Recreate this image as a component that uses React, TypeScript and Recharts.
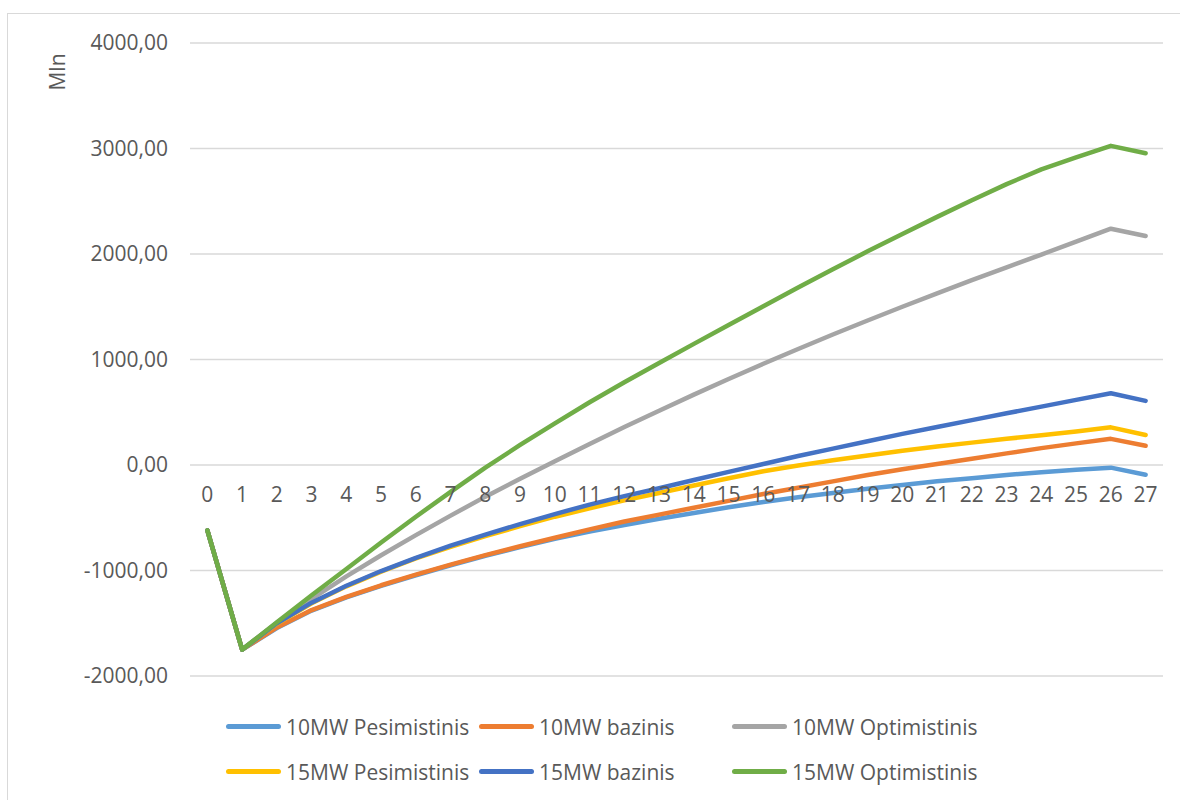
import React from "react";
import {
  LineChart,
  Line,
  XAxis,
  YAxis,
  CartesianGrid,
  Legend,
  ReferenceDot,
} from "recharts";

// Metai (projekto laikotarpis)
const years = [
  "0", "1", "2", "3", "4", "5", "6", "7", "8", "9", "10", "11", "12", "13",
  "14", "15", "16", "17", "18", "19", "20", "21", "22", "23", "24", "25", "26", "27",
];

// Sukauptas pinigų srautas, mln.
const pes10 = [
  -620, -1750, -1545, -1380, -1255, -1145, -1045, -950, -860, -778, -700, -630, -570, -510,
  -455, -400, -350, -305, -265, -225, -190, -155, -125, -95, -68, -45, -25, -92,
];
const baz10 = [
  -620, -1750, -1540, -1375, -1250, -1140, -1040, -945, -855, -770, -690, -610, -535, -470,
  -405, -340, -275, -215, -155, -95, -40, 10, 60, 110, 160, 205, 248, 182,
];
const opt10 = [
  -620, -1750, -1495, -1270, -1055, -855, -665, -480, -300, -130, 35, 200, 360, 515,
  667, 815, 960, 1100, 1237, 1370, 1500, 1627, 1752, 1873, 1995, 2118, 2240, 2170,
];
const pes15 = [
  -620, -1750, -1505, -1310, -1150, -1010, -885, -775, -675, -580, -490, -410, -335, -265,
  -195, -125, -60, -5, 45, 90, 135, 175, 212, 248, 283, 318, 357, 285,
];
const baz15 = [
  -620, -1750, -1500, -1305, -1145, -1005, -880, -765, -660, -560, -465, -375, -295, -220,
  -142, -65, 10, 85, 155, 225, 295, 360, 425, 490, 553, 617, 680, 608,
];
const opt15 = [
  -620, -1750, -1490, -1235, -985, -735, -490, -255, -25, 190, 395, 595, 785, 967,
  1148, 1327, 1505, 1682, 1855, 2025, 2190, 2352, 2510, 2662, 2802, 2915, 3025, 2955,
];

const yTicks = [-2000, -1000, 0, 1000, 2000, 3000, 4000];

const series = [
  { key: "pes10", name: "10MW Pesimistinis", color: "#5B9BD5", values: pes10 },
  { key: "baz10", name: "10MW bazinis", color: "#ED7D31", values: baz10 },
  { key: "opt10", name: "10MW Optimistinis", color: "#A5A5A5", values: opt10 },
  { key: "pes15", name: "15MW Pesimistinis", color: "#FFC000", values: pes15 },
  { key: "baz15", name: "15MW bazinis", color: "#4472C4", values: baz15 },
  { key: "opt15", name: "15MW Optimistinis", color: "#70AD47", values: opt15 },
];

const data = years.map((year, i) => {
  const row: Record<string, string | number> = { year };
  series.forEach((s) => {
    row[s.key] = s.values[i];
  });
  return row;
});

const FONT = "'Open Sans', sans-serif";
const TEXT = "#595959";

const fmt = (v: number) => v.toFixed(2).replace(".", ",");

// legenda: 3 stulpeliai, eilė kaip serijų sąraše
function LegendGrid() {
  return (
    <div
      style={{
        display: "grid",
        gridTemplateColumns: "253px 253px 253px",
        rowGap: 16,
        fontFamily: FONT,
        fontSize: 21,
        color: TEXT,
      }}
    >
      {series.map((s) => (
        <div key={s.key} style={{ display: "flex", alignItems: "center", height: 29 }}>
          <span
            style={{
              display: "inline-block",
              width: 55,
              height: 5,
              borderRadius: 3,
              background: s.color,
              marginRight: 5,
            }}
          />
          <span>{s.name}</span>
        </div>
      ))}
    </div>
  );
}

export default function App() {
  return (
    <div
      style={{
        position: "absolute",
        left: 0,
        top: 0,
        width: 1180,
        height: 800,
        background: "#fff",
        overflow: "hidden",
      }}
    >
      <div
        style={{
          position: "absolute",
          left: 7,
          top: 13,
          width: 1200,
          height: 820,
          border: "1.5px solid #d9d9d9",
        }}
      />
      <div
        style={{
          position: "absolute",
          left: 57,
          top: 72,
          transform: "translate(-50%, -50%) rotate(-90deg)",
          fontFamily: FONT,
          fontSize: 21,
          color: TEXT,
        }}
      >
        Mln
      </div>
      <div style={{ position: "absolute", left: 0, top: 0 }}>
        <LineChart
          width={1180}
          height={800}
          data={data}
          margin={{ top: 43, right: 17, bottom: 124, left: 40 }}
        >
          <CartesianGrid vertical={false} stroke="#d9d9d9" strokeWidth={1.4} />
          <XAxis dataKey="year" scale="band" hide />
          <YAxis
            width={150}
            domain={[-2000, 4000]}
            ticks={yTicks}
            tickFormatter={fmt}
            axisLine={false}
            tickLine={false}
            tickSize={0}
            tickMargin={22}
            tick={{ fill: TEXT, fontSize: 21, fontFamily: FONT }}
          />
          {years.map((y) => (
            <ReferenceDot
              key={y}
              x={y}
              y={0}
              r={0}
              fill="none"
              stroke="none"
              label={{
                value: y,
                position: "bottom",
                offset: 22,
                fill: TEXT,
                fontSize: 21,
                fontFamily: FONT,
              }}
            />
          ))}
          {series.map((s) => (
            <Line
              key={s.key}
              type="linear"
              dataKey={s.key}
              name={s.name}
              stroke={s.color}
              strokeWidth={4.5}
              strokeLinecap="round"
              strokeLinejoin="round"
              dot={false}
              activeDot={false}
              isAnimationActive={false}
            />
          ))}
          <Legend
            layout="vertical"
            align="center"
            verticalAlign="middle"
            content={<LegendGrid />}
            wrapperStyle={{ top: 712, left: 226, width: 800 }}
          />
        </LineChart>
      </div>
    </div>
  );
}
